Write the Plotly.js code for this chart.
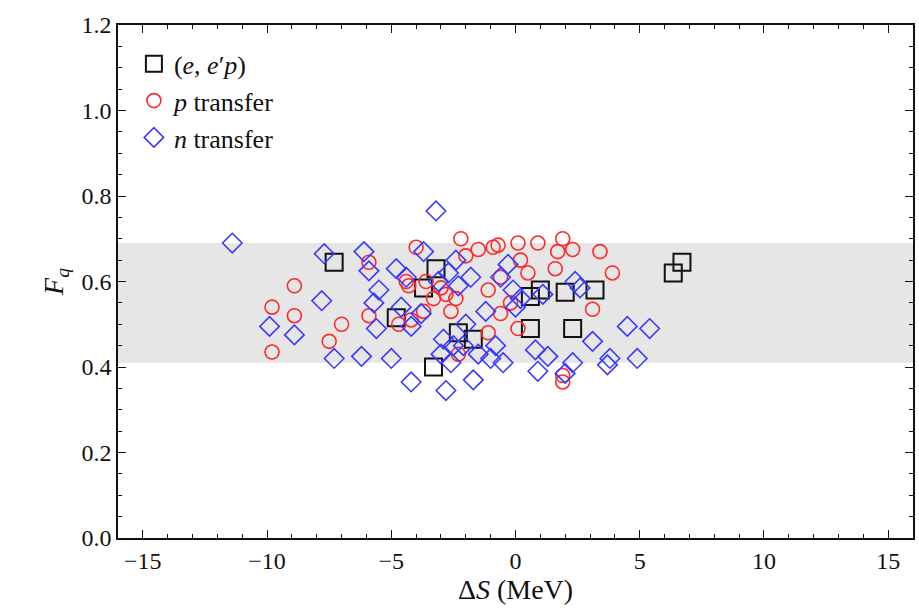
<!DOCTYPE html>
<html>
<head>
<meta charset="utf-8">
<script src="https://cdn.plot.ly/plotly-3.0.1.min.js"></script>
<style>body{margin:0;background:#fff}#chart{width:919px;height:615px}</style>
</head>
<body>
<div id="chart"></div>
<script>
// (e,e'p) points
const eepX = [-7.3, -4.8, -3.2, -3.7, -3.3, -2.3, -1.7, 0.6, 1.0, 2.0, 3.2, 0.6, 2.3, 6.35, 6.7];
const eepY = [0.645, 0.515, 0.63, 0.585, 0.40, 0.48, 0.465, 0.565, 0.58, 0.575, 0.58, 0.49, 0.49, 0.62, 0.645];

// p transfer points
const pX = [-9.8, -9.8, -8.9, -8.9, -7.0, -7.5, -5.9, -5.9, -4.7, -4.3, -4.4, -4.2, -4.0, -3.7, -3.6, -3.3, -3.0, -2.8, -2.6, -2.4, -2.3, -2.2, -2.0, -1.5, -1.1, -1.1, -0.9, -0.7, -0.6, -0.6, -0.2, 0.1, 0.1, 0.2, 0.5, 0.9, 1.6, 1.7, 1.9, 1.9, 1.9, 2.3, 3.1, 3.4, 3.9];
const pY = [0.54, 0.435, 0.59, 0.52, 0.50, 0.46, 0.645, 0.52, 0.50, 0.59, 0.60, 0.51, 0.68, 0.53, 0.60, 0.56, 0.585, 0.57, 0.53, 0.56, 0.43, 0.70, 0.66, 0.675, 0.58, 0.48, 0.68, 0.685, 0.61, 0.525, 0.55, 0.49, 0.69, 0.65, 0.62, 0.69, 0.63, 0.67, 0.70, 0.38, 0.365, 0.675, 0.535, 0.67, 0.62];

// n transfer points
const nX = [-11.4, -9.9, -8.9, -7.7, -7.8, -7.3, -6.2, -6.1, -5.9, -5.7, -5.6, -5.5, -5.0, -4.8, -4.6, -4.4, -4.2, -4.2, -3.8, -3.7, -3.2, -3.1, -3.0, -2.9, -2.8, -2.7, -2.6, -2.5, -2.4, -2.3, -2.1, -2.0, -1.8, -1.7, -1.5, -1.2, -1.0, -0.8, -0.6, -0.5, -0.3, -0.1, 0.0, 0.2, 0.8, 0.9, 1.3, 1.1, 2.0, 2.3, 2.4, 2.6, 3.1, 3.7, 3.8, 4.5, 4.9, 5.4];
const nY = [0.69, 0.495, 0.475, 0.665, 0.555, 0.42, 0.425, 0.67, 0.625, 0.55, 0.49, 0.58, 0.42, 0.63, 0.54, 0.61, 0.365, 0.495, 0.525, 0.67, 0.765, 0.60, 0.43, 0.465, 0.345, 0.62, 0.41, 0.45, 0.65, 0.59, 0.45, 0.50, 0.61, 0.37, 0.43, 0.53, 0.42, 0.45, 0.61, 0.41, 0.64, 0.58, 0.54, 0.56, 0.44, 0.39, 0.425, 0.57, 0.385, 0.41, 0.60, 0.585, 0.46, 0.405, 0.42, 0.495, 0.42, 0.49];

const bandLow = 0.41, bandHigh = 0.69;

const font = {family: 'Liberation Serif, DejaVu Serif, serif', size: 24, color: '#111'};
const titleFont = {family: 'Liberation Serif, DejaVu Serif, serif', size: 28, color: '#111'};

const traces = [
    {x: eepX, y: eepY, mode: 'markers', type: 'scatter', name: '(<i>e</i>, <i>e</i>′<i>p</i>)',
     marker: {symbol: 'square-open', size: 17, color: '#111', line: {width: 2}}},
    {x: pX, y: pY, mode: 'markers', type: 'scatter', name: '<i>p</i> transfer',
     marker: {symbol: 'circle-open', size: 14, color: '#ff2a2a', line: {width: 1.6}}},
    {x: nX, y: nY, mode: 'markers', type: 'scatter', name: '<i>n</i> transfer',
     marker: {symbol: 'diamond-open', size: 15, color: '#3a3aff', line: {width: 1.6}}}
];

const axisCommon = {
    showline: true, mirror: 'ticks', linecolor: '#111', linewidth: 1.5,
    ticks: 'inside', ticklen: 8, tickcolor: '#111', showgrid: false, zeroline: false,
    tickfont: font
};

const layout = {
    width: 919, height: 615,
    margin: {l: 118, r: 6, t: 25, b: 77},
    paper_bgcolor: '#fff', plot_bgcolor: '#fff',
    font: font,
    showlegend: true,
    legend: {x: 0.02, y: 0.97, xanchor: 'left', yanchor: 'top', bgcolor: 'rgba(0,0,0,0)',
             font: {family: font.family, size: 26, color: '#111'}, itemwidth: 30, tracegroupgap: 6},
    xaxis: Object.assign({}, axisCommon, {
        range: [-16, 16], tickvals: [-15, -10, -5, 0, 5, 10, 15],
        ticktext: ['−15', '−10', '−5', '0', '5', '10', '15'],
        minor: {ticks: 'inside', ticklen: 4, tickcolor: '#111', dtick: 1},
        title: {text: 'Δ<i>S</i> (MeV)', font: titleFont, standoff: 2}
    }),
    yaxis: Object.assign({}, axisCommon, {
        range: [0, 1.2], dtick: 0.2, tickformat: '.1f',
        minor: {ticks: 'inside', ticklen: 4, tickcolor: '#111', dtick: 0.05},
        title: {text: '<i>F<sub>q</sub></i>', font: titleFont, standoff: 10}
    }),
    shapes: [{type: 'rect', xref: 'paper', yref: 'y', x0: 0, x1: 1, y0: bandLow, y1: bandHigh,
              fillcolor: '#e6e6e6', line: {width: 0}, layer: 'below'}]
};

Plotly.newPlot('chart', traces, layout, {displayModeBar: false});
</script>
</body>
</html>
